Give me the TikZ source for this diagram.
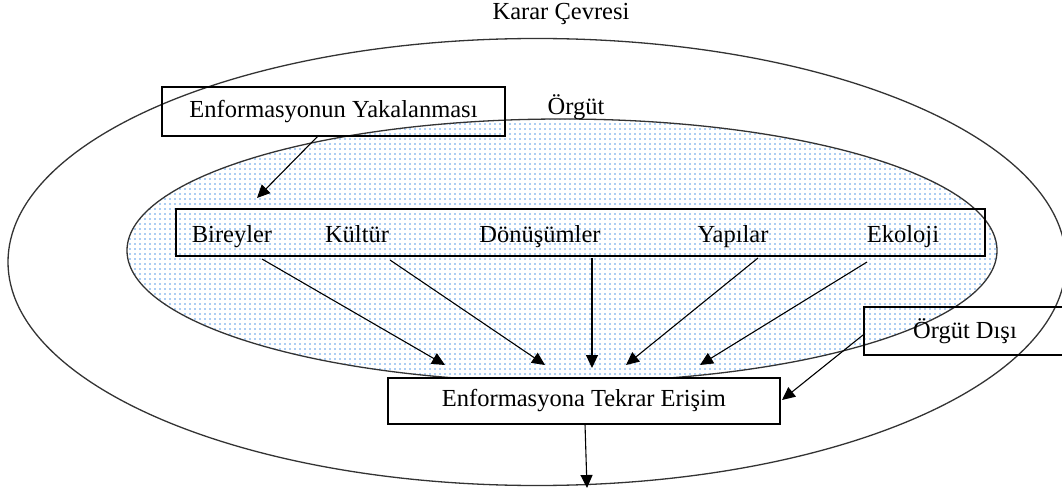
\documentclass[tikz,border=0pt]{standalone}
\usepackage{fontspec}
\setmainfont{Liberation Serif}
\usetikzlibrary{arrows.meta,patterns.meta}
\definecolor{dotblue}{RGB}{90,155,230}
\tikzset{
  box/.style={draw, line width=1.2pt, inner sep=0pt, align=center},
  lbl/.style={inner sep=0pt, anchor=base},
  arr/.style={line width=1.1pt, -{Triangle[length=13pt,width=12pt]}},
  ell/.style={line width=1.3pt, draw=black!80},
}
\begin{document}
\begin{tikzpicture}[x=1pt,y=-1pt,font=\fontsize{24.5}{28}\selectfont]
\useasboundingbox (0,0) rectangle (1062,494);
% outer ellipse
\draw[ell] (537,262) ellipse [x radius=529pt, y radius=223.5pt];
% inner ellipse (organisation)
\draw[ell, pattern={Dots[distance=5pt,radius=0.9pt]}, pattern color=dotblue] (562,250.5) ellipse [x radius=435pt, y radius=131.5pt];
% labels
\node[lbl] (karar) at (561,20) {Karar Çevresi};
\node[lbl] (orgut) at (576,115) {Örgüt};
% boxes
\node[box, minimum width=343pt, minimum height=49pt] (yak) at (333.5,111.5) {Enformasyonun Yakalanması};
\node[box, minimum width=809pt, minimum height=47pt] (inner) at (580.5,232.5) {};
\node[lbl] (bir) at (232,243) {Bireyler};
\node[lbl] (kul) at (357,243) {Kültür};
\node[lbl] (don) at (540,243) {Dönüşümler};
\node[lbl] (yap) at (733,243) {Yapılar};
\node[lbl] (eko) at (903,243) {Ekoloji};
\node[box, minimum width=202pt, minimum height=48pt] (dis) at (965,331) {Örgüt Dışı};
\node[box, fill=white, minimum width=392pt, minimum height=46pt] (tek) at (584,401) {Enformasyona Tekrar Erişim};
% connector ends
\coordinate (yakA) at (318,136);
\coordinate (yakB) at (257,198);
\coordinate (birA) at (262,259);
\coordinate (birB) at (445,365);
\coordinate (kulA) at (390,260);
\coordinate (kulB) at (545,365);
\coordinate (donA) at (592,258);
\coordinate (donB) at (592,368);
\coordinate (yapA) at (758,258);
\coordinate (yapB) at (626,365);
\coordinate (ekoA) at (867,262);
\coordinate (ekoB) at (700,365);
\coordinate (disA) at (863,335);
\coordinate (tekR) at (782,400);
\coordinate (tekA) at (585,424);
\coordinate (outB) at (587,488);
% connectors
\draw[arr] (yakA) -- (yakB);
\draw[arr] (birA) -- (birB);
\draw[arr] (kulA) -- (kulB);
\draw[arr] (donA) -- (donB);
\draw[arr] (yapA) -- (yapB);
\draw[arr] (ekoA) -- (ekoB);
\draw[arr] (disA) -- (tekR);
\draw[arr] (tekA) -- (outB);
\end{tikzpicture}
\end{document}
